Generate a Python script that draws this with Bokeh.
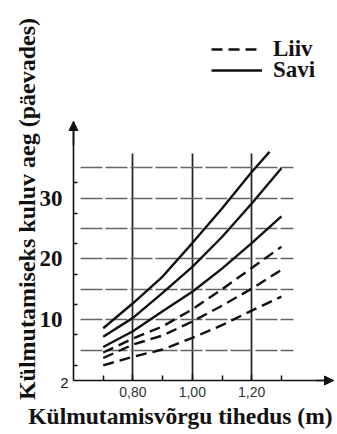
import math
from bokeh.plotting import figure
from bokeh.models import (FixedTicker, Label, Arrow, NormalHead, Legend,
                          LegendItem, Range1d)
from bokeh.embed import file_html
from bokeh.resources import INLINE

# ---------------- data ----------------
x_pts = [0.70, 0.80, 0.90, 1.00, 1.10, 1.20, 1.30]
x_pts_savi1 = [0.70, 0.80, 0.90, 1.00, 1.10, 1.20, 1.26]

savi_1 = [8.6, 12.7, 17.1, 22.6, 28.3, 34.3, 37.6]
savi_2 = [7.2, 10.3, 14.4, 18.7, 23.6, 29.1, 34.9]
savi_3 = [5.5, 8.1, 11.4, 14.6, 18.4, 22.6, 27.0]

liiv_1 = [4.6, 6.9, 8.9, 11.7, 15.0, 18.5, 22.0]
liiv_2 = [3.7, 5.9, 7.4, 9.7, 12.3, 15.1, 18.2]
liiv_3 = [2.5, 3.9, 5.1, 7.0, 9.1, 11.5, 13.8]

x_major_ticks = [0.80, 1.00, 1.20]
x_tick_labels = ["0,80", "1,00", "1,20"]
x_minor_ticks = [0.70, 0.90, 1.10, 1.30]

y_major_ticks = [10, 20, 30]
y_tick_labels = ["10", "20", "30"]
y_minor_ticks = [2.5, 7.5, 12.5, 17.5, 22.5, 27.5, 32.5]
y_grid_values = [5, 10, 15, 20, 25, 30, 35]
y_base_label = "2"

legend_labels = ["Liiv", "Savi"]
x_title = "Külmutamisvõrgu tihedus (m)"
y_title = "Külmutamiseks kuluv aeg (päevades)"

# ---------------- axis extents ----------------
AX_X0, AX_X1 = 0.6, 1.4754     # x axis line (origin .. arrow tip)
AX_Y0, AX_Y1 = 0.0, 42.6       # y axis line (origin .. arrow tip)
VGRID_TOP = 37.3
HGRID_SPAN = (0.625, 1.34)

W, H = 337, 434
PX_X = 297.0    # pixels per x unit
PX_Y = 6.08     # pixels per y unit
ORIGIN_SX, ORIGIN_SY = 73, 380   # origin in canvas pixels

x_range = Range1d(AX_X0 - ORIGIN_SX / PX_X, AX_X0 + (W - ORIGIN_SX) / PX_X)
y_range = Range1d(AX_Y0 - (H - ORIGIN_SY) / PX_Y, AX_Y0 + ORIGIN_SY / PX_Y)

p = figure(width=W, height=H, x_range=x_range, y_range=y_range,
           output_backend="svg", toolbar_location=None,
           min_border_left=0, min_border_right=0, min_border_top=0,
           min_border_bottom=0)
p.outline_line_color = None
p.background_fill_color = "white"
p.border_fill_color = "white"

INK = "#111111"
SERIF = "Liberation Serif"
SANS = "Liberation Sans"

# x axis
xa = p.xaxis[0]
xa.fixed_location = AX_Y0
xa.bounds = (AX_X0, AX_X1)
xa.ticker = FixedTicker(ticks=x_major_ticks, minor_ticks=x_minor_ticks)
xa.major_label_overrides = dict(zip(x_major_ticks, x_tick_labels))
xa.axis_line_color = INK
xa.axis_line_width = 1.6
xa.major_tick_in = 6
xa.major_tick_out = 0
xa.minor_tick_in = 5
xa.minor_tick_out = 0
xa.major_tick_line_color = INK
xa.minor_tick_line_color = INK
xa.major_tick_line_width = 1.5
xa.minor_tick_line_width = 1.5
xa.major_label_standoff = 6
xa.major_label_text_font = SANS
xa.major_label_text_font_size = "14px"
xa.major_label_text_color = "#333333"

# y axis
ya = p.yaxis[0]
ya.fixed_location = AX_X0
ya.bounds = (AX_Y0, AX_Y1)
ya.ticker = FixedTicker(ticks=y_major_ticks, minor_ticks=y_minor_ticks)
ya.major_label_overrides = dict(zip(y_major_ticks, y_tick_labels))
ya.axis_line_color = INK
ya.axis_line_width = 1.6
ya.major_tick_in = 0
ya.major_tick_out = 0
ya.minor_tick_in = 4
ya.minor_tick_out = 0
ya.minor_tick_line_color = INK
ya.minor_tick_line_width = 1.5
ya.major_label_standoff = 11
ya.major_label_text_font = SERIF
ya.major_label_text_font_style = "bold"
ya.major_label_text_font_size = "23px"
ya.major_label_text_color = INK

# grid
p.xgrid.ticker = FixedTicker(ticks=x_major_ticks)
p.xgrid.cross_bounds = (AX_Y0, VGRID_TOP)
p.xgrid.grid_line_color = "#222222"
p.xgrid.grid_line_width = 1.7
p.ygrid.ticker = FixedTicker(ticks=y_grid_values)
p.ygrid.cross_bounds = HGRID_SPAN
p.ygrid.grid_line_color = "#666666"
p.ygrid.grid_line_width = 1.4
p.ygrid.grid_line_dash = "22 3"

# curves
LW = 2.4
r_savi = p.line(x_pts_savi1, savi_1, line_color=INK, line_width=LW)
p.line(x_pts, savi_2, line_color=INK, line_width=LW)
p.line(x_pts, savi_3, line_color=INK, line_width=LW)
r_liiv = p.line(x_pts, liiv_1, line_color=INK, line_width=LW, line_dash="11 6")
p.line(x_pts, liiv_2, line_color=INK, line_width=LW, line_dash="11 6")
p.line(x_pts, liiv_3, line_color=INK, line_width=LW, line_dash="11 6")

# legend: one single-row legend per entry so the row spacing can match
legend_style = dict(orientation="vertical", glyph_width=51, glyph_height=20,
                    label_height=20, spacing=0, padding=0, margin=0,
                    label_standoff=11, border_line_color=None,
                    background_fill_alpha=0, label_text_font=SERIF,
                    label_text_font_style="bold", label_text_font_size="23px",
                    label_text_color=INK)
p.add_layout(Legend(items=[LegendItem(label=legend_labels[0], renderers=[r_liiv])],
                    location=(211, 372), **legend_style))
p.add_layout(Legend(items=[LegendItem(label=legend_labels[1], renderers=[r_savi])],
                    location=(211, 351), **legend_style))

# axis arrows
p.add_layout(Arrow(end=NormalHead(size=9, fill_color=INK, line_color=INK),
                   x_start=AX_X0, y_start=AX_Y1 - 4, x_end=AX_X0, y_end=AX_Y1,
                   line_color=INK, line_width=1.6))
p.add_layout(Arrow(end=NormalHead(size=9, fill_color=INK, line_color=INK),
                   x_start=AX_X1 - 0.06, y_start=AX_Y0, x_end=AX_X1, y_end=AX_Y0,
                   line_color=INK, line_width=1.6))

# base label "2"
p.add_layout(Label(x=AX_X0, y=AX_Y0, text=y_base_label, x_offset=-5, y_offset=-2,
                   text_align="right", text_baseline="middle",
                   text_font=SANS, text_font_size="15px", text_color=INK))

# axis titles
p.add_layout(Label(x=0.96, y=-5.92, text=x_title, text_align="center",
                   text_baseline="alphabetic", text_font=SERIF,
                   text_font_style="bold", text_font_size="23.5px",
                   text_color=INK))
p.add_layout(Label(x=0.4451, y=28.2, text=y_title, angle=math.pi / 2,
                   text_align="center", text_baseline="alphabetic",
                   text_font=SERIF, text_font_style="bold",
                   text_font_size="24px", text_color=INK))

open("out.html", "w").write(file_html(p, INLINE))
